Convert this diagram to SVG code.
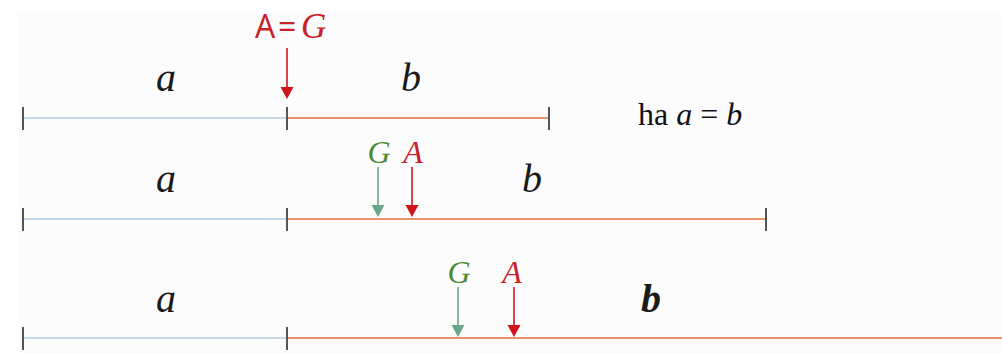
<svg xmlns="http://www.w3.org/2000/svg" width="1002" height="354" viewBox="0 0 1002 354">
<defs>
<style>
.bg{fill:#fcfcfc}
.blue{stroke:#c4d8ec;stroke-width:2;fill:none}
.orange{stroke:#e8946a;stroke-width:2;fill:none}
.tick{stroke:#555;stroke-width:2}
.var{font-family:"Liberation Serif",serif;font-style:italic;font-size:40px;fill:#1a1a1a;text-anchor:middle}
.lbl{font-family:"Liberation Serif",serif;font-style:italic;font-size:32px;text-anchor:middle}
.red{fill:#c9202a}
.green{fill:#4e8a34}
.ar{stroke:#d0141c;stroke-width:1.6}
.ag{stroke:#6aa68a;stroke-width:1.6}
.hr{fill:#d0141c}
.hg{fill:#6aa68a}
</style>
</defs>
<rect x="0" y="0" width="1002" height="354" fill="#ffffff"/>
<rect class="bg" x="18" y="13" width="984" height="341"/>

<g id="row1">
<line class="blue" x1="23" y1="118" x2="287" y2="118"/>
<line class="orange" x1="287" y1="118" x2="549" y2="118"/>
<line class="tick" x1="23" y1="107" x2="23" y2="130"/>
<line class="tick" x1="287" y1="107" x2="287" y2="130"/>
<line class="tick" x1="549" y1="107" x2="549" y2="130"/>
<text class="var" x="166" y="91">a</text>
<text class="var" x="411" y="91">b</text>
<text x="255" y="38" font-family="'Open Sans','Liberation Sans',sans-serif" font-size="32" fill="#c9202a">A</text>
<text x="278" y="38" font-family="'Open Sans','Liberation Sans',sans-serif" font-size="32" fill="#c9202a">=</text>
<text x="301" y="38" font-family="'Liberation Serif',serif" font-style="italic" font-size="35" fill="#c9202a">G</text>
<text x="638" y="125" font-family="'Liberation Serif',serif" font-size="32" fill="#111">ha <tspan font-style="italic">a</tspan> = <tspan font-style="italic">b</tspan></text>
</g>

<g id="row2">
<line class="blue" x1="23" y1="219" x2="287" y2="219"/>
<line class="orange" x1="287" y1="219" x2="766" y2="219"/>
<line class="tick" x1="23" y1="208" x2="23" y2="231"/>
<line class="tick" x1="287" y1="208" x2="287" y2="231"/>
<line class="tick" x1="766" y1="208" x2="766" y2="231"/>
<text class="var" x="166" y="192">a</text>
<text class="var" x="532" y="192">b</text>
<text class="lbl green" x="379" y="163">G</text>
<text class="lbl red" x="413" y="163">A</text>
</g>

<g id="row3">
<line class="blue" x1="23" y1="338" x2="287" y2="338"/>
<line class="orange" x1="287" y1="338" x2="1002" y2="338"/>
<line class="tick" x1="23" y1="327" x2="23" y2="350"/>
<line class="tick" x1="287" y1="327" x2="287" y2="350"/>
<text class="var" x="166" y="312">a</text>
<text class="var" x="651" y="312" font-weight="bold">b</text>
<text class="lbl green" x="459" y="283">G</text>
<text class="lbl red" x="512" y="283">A</text>
</g>

<g id="connectors">
<line class="ar" x1="287" y1="48" x2="287" y2="88" stroke-width="2"/>
<polygon class="hr" points="280.5,87 293.5,87 287,99"/>
<line class="ag" x1="378" y1="167" x2="378" y2="206"/>
<polygon class="hg" points="371.5,205 384.5,205 378,217"/>
<line class="ar" x1="412" y1="167" x2="412" y2="206"/>
<polygon class="hr" points="405.5,205 418.5,205 412,217"/>
<line class="ag" x1="458" y1="287" x2="458" y2="326"/>
<polygon class="hg" points="451.5,325 464.5,325 458,337"/>
<line class="ar" x1="514" y1="287" x2="514" y2="326"/>
<polygon class="hr" points="507.5,325 520.5,325 514,337"/>
</g>
</svg>
